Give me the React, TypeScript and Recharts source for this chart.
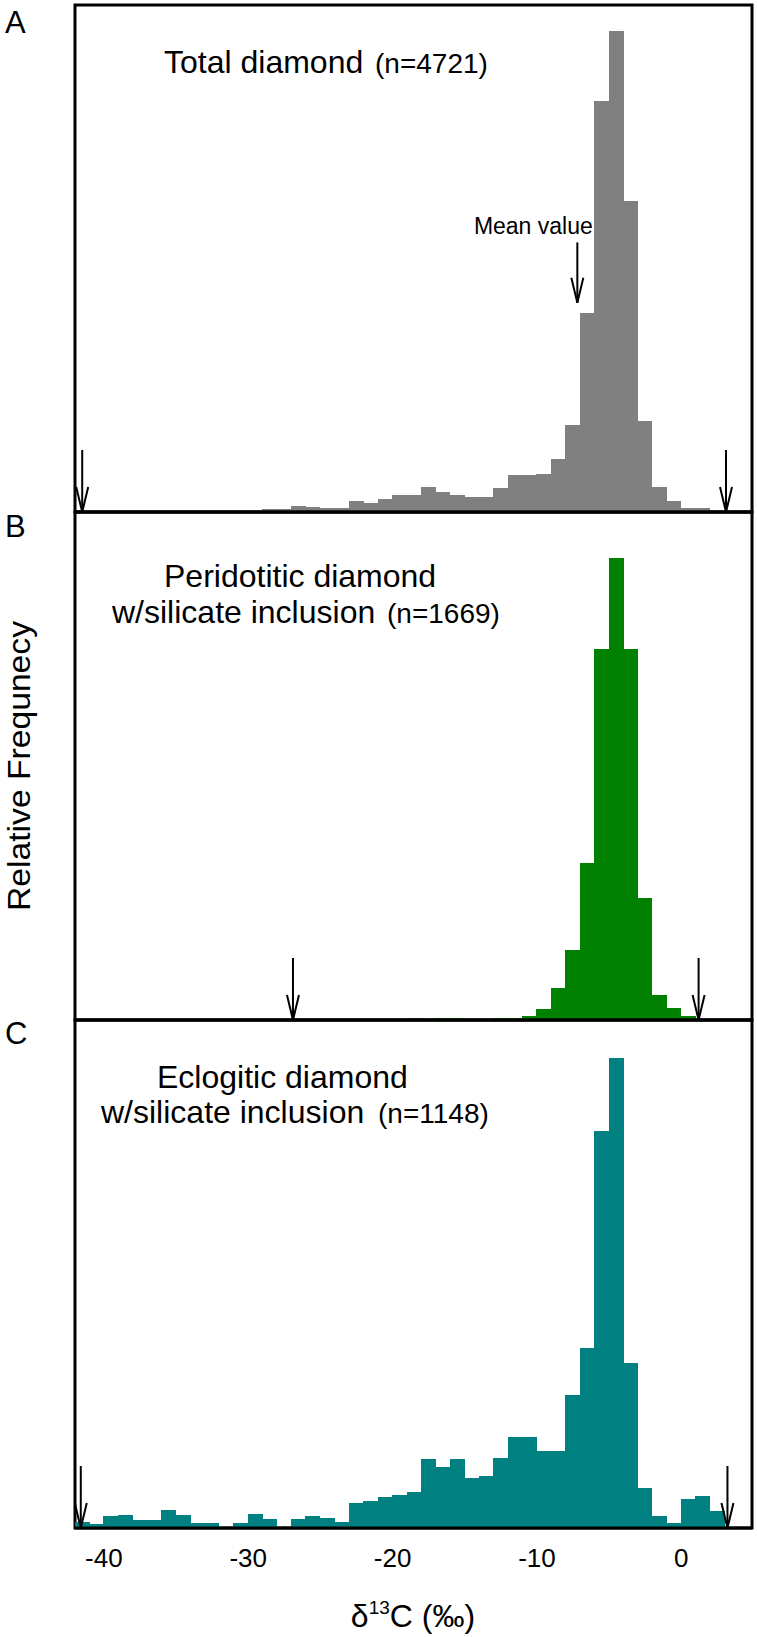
import React from 'react';
import { BarChart, Bar, XAxis, YAxis, ReferenceArea, ReferenceLine } from 'recharts';

// bin start values (1 permil wide bins), delta13C
const binStart = [
  -42, -41, -40, -39, -38, -37, -36, -35, -34, -33,
  -32, -31, -30, -29, -28, -27, -26, -25, -24, -23,
  -22, -21, -20, -19, -18, -17, -16, -15, -14, -13,
  -12, -11, -10, -9, -8, -7, -6, -5, -4, -3,
  -2, -1, 0, 1, 2, 3, 4,
];

// relative frequency (%) per bin
const totalDiamond = [
  0, 0, 0.03, 0.03, 0.02, 0.02, 0.1, 0.05, 0.03, 0.03,
  0.05, 0.05, 0.08, 0.17, 0.17, 0.3, 0.23, 0.2, 0.2, 0.56,
  0.46, 0.66, 0.86, 0.86, 1.24, 1.0, 0.86, 0.75, 0.75, 1.2,
  1.83, 1.83, 1.89, 2.62, 4.32, 9.88, 20.45, 23.9, 15.47, 4.51,
  1.24, 0.53, 0.2, 0.2, 0.07, 0, 0,
];

const peridotitic = [
  0, 0, 0, 0, 0, 0, 0, 0, 0, 0,
  0, 0, 0, 0, 0, 0, 0, 0, 0, 0,
  0, 0, 0.02, 0.13, 0.06, 0.13, 0.11, 0.02, 0.06, 0.11,
  0.13, 0.24, 0.69, 1.91, 4.25, 9.49, 22.44, 27.94, 22.44, 7.36,
  1.52, 0.71, 0.22, 0.02, 0, 0, 0,
];

const eclogitic = [
  0.24, 0.16, 0.49, 0.52, 0.32, 0.32, 0.73, 0.52, 0.21, 0.21,
  0, 0.21, 0.57, 0.36, 0, 0.36, 0.49, 0.4, 0.24, 1.02,
  1.09, 1.26, 1.34, 1.43, 2.75, 2.43, 2.75, 2.02, 2.07, 2.79,
  3.64, 3.64, 3.08, 3.08, 5.34, 7.21, 15.87, 18.79, 6.61, 1.62,
  0.49, 0.19, 1.17, 1.3, 0.68, 0, 0,
];

const xTicks = [-40, -30, -20, -10, 0];
const xDomain: [number, number] = [-42, 4.9];

// range arrows (min / max) per panel, and the mean of the total set
const rangeA = [-41.5, 3.1];
const rangeB = [-26.9, 1.2];
const rangeC = [-41.6, 3.2];
const meanA = { x: -7.2, tip: 10.4, top: 13.4 };

const rows = binStart.map((b, i) => ({
  x: b + 0.5,
  total: totalDiamond[i],
  perid: peridotitic[i],
  eclog: eclogitic[i],
}));

const FONT = '"Liberation Sans", Arial, Helvetica, sans-serif';
const W = 757;
const LEFT = 75;
const RIGHT = 5;

// histogram bars: widen a hair so neighbours touch without seams
const HistBar = (props: any) => {
  const { x, y, width, height, fill } = props;
  if (!height || height <= 0) return null;
  return (
    <rect
      x={x - 0.5}
      y={y}
      width={width + 1}
      height={height}
      fill={fill}
      shapeRendering="crispEdges"
    />
  );
};

const Arrow = (props: any) => {
  const { x1, y1, y2, len, label } = props;
  const tip = Math.max(y1, y2);
  const top = len ? tip - len : Math.min(y1, y2);
  return (
    <g>
      <line x1={x1} y1={top} x2={x1} y2={tip} stroke="#000" strokeWidth={2} />
      <polyline
        points={`${x1 - 6},${tip - 25} ${x1},${tip} ${x1 + 6},${tip - 25}`}
        fill="none"
        stroke="#000"
        strokeWidth={2}
      />
      {label && (
        <text x={x1 - 44} y={top - 8} textAnchor="middle" fontSize={23} fontFamily={FONT}>
          {label}
        </text>
      )}
    </g>
  );
};

interface PanelProps {
  dataKey: string;
  color: string;
  yMax: number;
  top: number;
  height: number;
  axisH: number;
  arrows: number[];
  labels?: boolean;
  children?: React.ReactNode;
}

const Panel = ({ dataKey, color, yMax, top, height, axisH, arrows, labels, children }: PanelProps) => (
  <div style={{ position: 'absolute', left: 0, top }}>
    <BarChart
      width={W}
      height={height}
      data={rows}
      margin={{ top: top === 0 ? 5 : 10, right: RIGHT, left: LEFT, bottom: 0 }}
      barCategoryGap={0}
      barGap={0}
    >
      <XAxis
        type="number"
        dataKey="x"
        domain={xDomain}
        ticks={xTicks}
        allowDataOverflow
        interval={0}
        height={axisH}
        axisLine={{ stroke: '#000', strokeWidth: 3 }}
        tickLine={labels ? false : { stroke: '#000', strokeWidth: 2 }}
        tickSize={labels ? 0 : 8}
        tickMargin={labels ? 21 : 0}
        tick={labels ? { fontSize: 26, fill: '#000', fontFamily: FONT } : false}
      />
      <YAxis hide type="number" domain={[0, yMax]} allowDataOverflow />
      <Bar dataKey={dataKey} fill={color} shape={<HistBar />} isAnimationActive={false} />
      <ReferenceArea
        x1={xDomain[0]}
        x2={xDomain[1]}
        fill="none"
        stroke="#000"
        strokeWidth={3}
        ifOverflow="visible"
      />
      {arrows.map((v) => (
        <ReferenceLine key={v} x={v} shape={(p: any) => <Arrow {...p} len={62} />} />
      ))}
      {children}
    </BarChart>
  </div>
);

export default function App() {
  return (
    <div style={{ position: 'absolute', left: 0, top: 0, width: W, height: 1637, background: '#fff' }}>
      <Panel dataKey="total" color="#808080" yMax={25.2} top={0} height={530} axisH={18} arrows={rangeA}>
        <ReferenceLine
          segment={[
            { x: meanA.x, y: meanA.top },
            { x: meanA.x, y: meanA.tip },
          ]}
          shape={(p: any) => <Arrow {...p} label="Mean value" />}
        />
      </Panel>
      <Panel dataKey="perid" color="#008000" yMax={30.7} top={502} height={540} axisH={22} arrows={rangeB} />
      <Panel dataKey="eclog" color="#008080" yMax={20.33} top={1010} height={627} axisH={109} arrows={rangeC} labels />
      <svg
        width={W}
        height={1637}
        style={{ position: 'absolute', left: 0, top: 0, pointerEvents: 'none' }}
        fontFamily={FONT}
        fill="#000"
      >
        <text x={5} y={33} fontSize={31}>A</text>
        <text x={5} y={537} fontSize={31}>B</text>
        <text x={5} y={1044} fontSize={31}>C</text>
        <text x={164} y={73} fontSize={32}>Total diamond</text>
        <text x={375} y={73} fontSize={28}>(n=4721)</text>
        <text x={164} y={587} fontSize={32}>Peridotitic diamond</text>
        <text x={112} y={623} fontSize={32}>w/silicate inclusion</text>
        <text x={387} y={623} fontSize={28}>(n=1669)</text>
        <text x={157} y={1088} fontSize={32}>Eclogitic diamond</text>
        <text x={101} y={1123} fontSize={32}>w/silicate inclusion</text>
        <text x={378} y={1123} fontSize={28}>(n=1148)</text>
        <text
          x={30}
          y={766}
          transform="rotate(-90 30 766)"
          textAnchor="middle"
          fontSize={31}
          textLength={290}
          lengthAdjust="spacingAndGlyphs"
        >
          Relative Frequnecy
        </text>
        <text x={413} y={1627} textAnchor="middle" fontSize={32}>
          {'δ'}
          <tspan fontSize={19} dy={-13}>13</tspan>
          <tspan dy={13}>C (‰)</tspan>
        </text>
      </svg>
    </div>
  );
}
